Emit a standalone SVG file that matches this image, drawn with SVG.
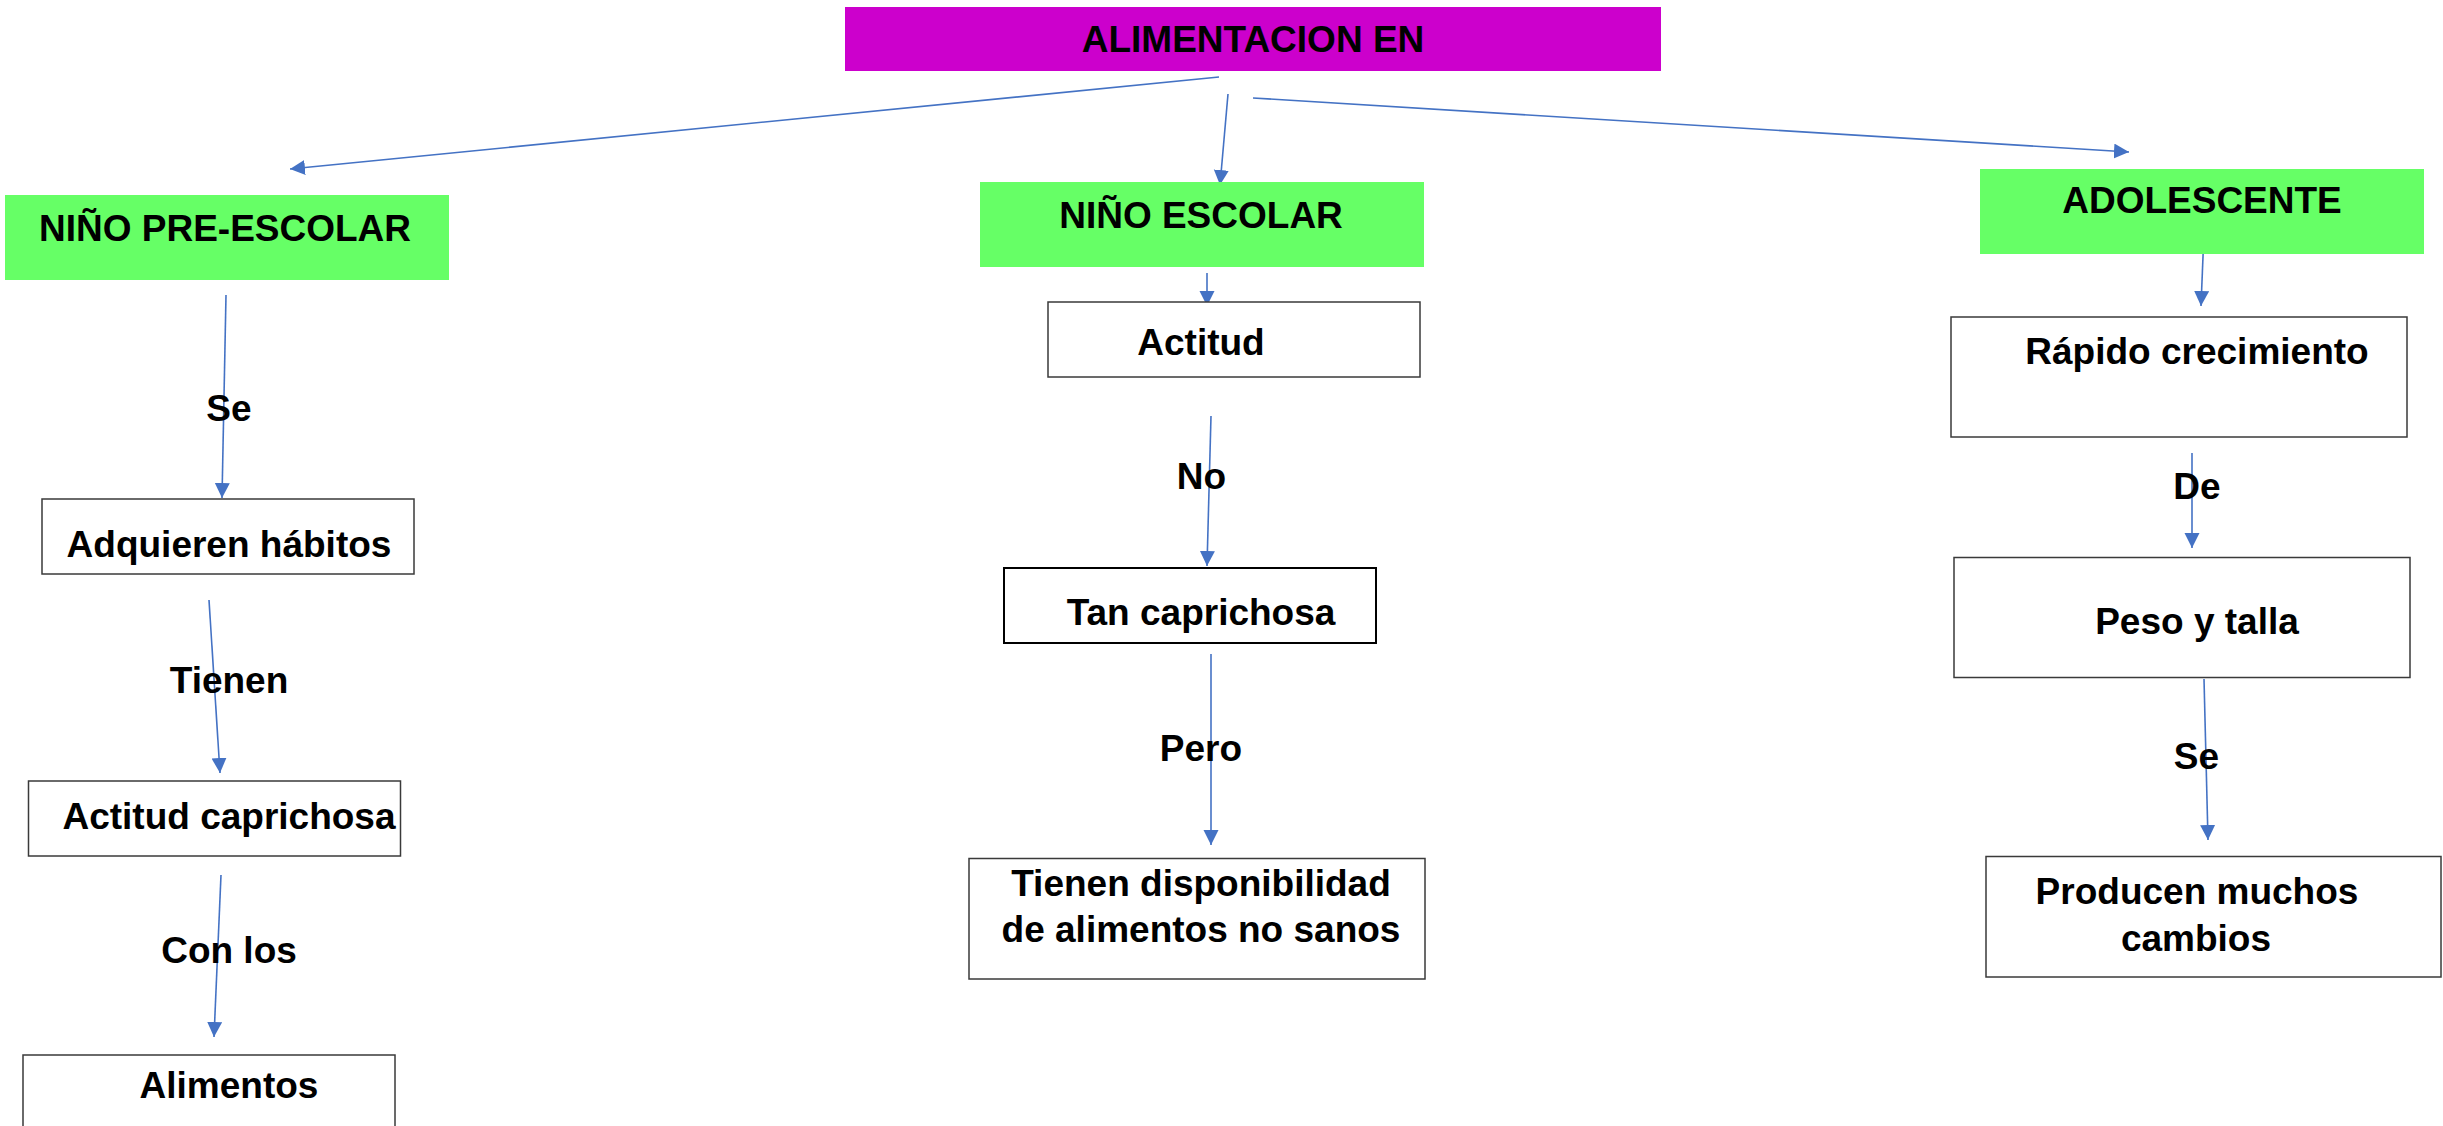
<svg xmlns="http://www.w3.org/2000/svg" width="2443" height="1126" viewBox="0 0 2443 1126">
<style>
text{font-family:"Liberation Sans",Arial,sans-serif;font-weight:bold;font-size:37px;fill:#000;text-anchor:middle}
.box{fill:#fff;stroke:#3a3a3a;stroke-width:1.5}
.green{fill:#66FF66}
.conn{stroke:#4472C4;stroke-width:1.6;fill:none;marker-end:url(#ah)}
</style>
<defs>
<marker id="ah" markerUnits="userSpaceOnUse" markerWidth="16" markerHeight="16" refX="15" refY="7.5" orient="auto" viewBox="0 0 16 16">
<path d="M0,0 L15,7.5 L0,15 Z" fill="#4472C4"/>
</marker>
</defs>
<rect width="2443" height="1126" fill="#fff"/>
<g id="connectors">
<line class="conn" x1="1219" y1="77" x2="290" y2="169"/>
<line class="conn" x1="1228" y1="94" x2="1220" y2="185"/>
<line class="conn" x1="1253" y1="98" x2="2129" y2="152"/>
<line class="conn" x1="226" y1="295" x2="222" y2="498"/>
<line class="conn" x1="209" y1="600" x2="220" y2="773"/>
<line class="conn" x1="221" y1="875" x2="214" y2="1037"/>
<line class="conn" x1="1207" y1="273" x2="1207" y2="306"/>
<line class="conn" x1="1211" y1="416" x2="1207" y2="566"/>
<line class="conn" x1="1211" y1="654" x2="1211" y2="845"/>
<line class="conn" x1="2204" y1="232" x2="2201" y2="306"/>
<line class="conn" x1="2192" y1="453" x2="2192" y2="548"/>
<line class="conn" x1="2204" y1="679" x2="2208" y2="840"/>
</g>
<g id="title">
<rect x="845" y="7" width="816" height="64" fill="#CC00CC"/>
<text x="1253" y="52">ALIMENTACION EN</text>
</g>
<g id="preescolar">
<rect class="green" x="5" y="195" width="444" height="85"/>
<text x="225" y="241">NIÑO PRE-ESCOLAR</text>
</g>
<g id="escolar">
<rect class="green" x="980" y="182" width="444" height="85"/>
<text x="1201" y="228">NIÑO ESCOLAR</text>
</g>
<g id="adolescente">
<rect class="green" x="1980" y="169" width="444" height="85"/>
<text x="2202" y="213">ADOLESCENTE</text>
</g>
<g id="adquieren">
<rect class="box" x="42" y="499" width="372" height="75"/>
<text x="229" y="557">Adquieren hábitos</text>
</g>
<g id="actitud-caprichosa">
<rect class="box" x="28.5" y="781" width="372" height="75"/>
<text x="229" y="829">Actitud caprichosa</text>
</g>
<g id="alimentos">
<rect class="box" x="23" y="1055" width="372" height="90"/>
<text x="229" y="1098">Alimentos</text>
</g>
<g id="actitud">
<rect class="box" x="1048" y="302" width="372" height="75"/>
<text x="1201" y="355">Actitud</text>
</g>
<g id="tan-caprichosa">
<rect class="box" x="1004" y="568" width="372" height="75" style="stroke:#000;stroke-width:2"/>
<text x="1201" y="625">Tan caprichosa</text>
</g>
<g id="tienen-disponibilidad">
<rect class="box" x="969" y="858.5" width="456" height="120.5"/>
<text x="1201" y="896">Tienen disponibilidad</text>
<text x="1201" y="942">de alimentos no sanos</text>
</g>
<g id="rapido">
<rect class="box" x="1951" y="317" width="456" height="120"/>
<text x="2197" y="364">Rápido crecimiento</text>
</g>
<g id="peso">
<rect class="box" x="1954" y="557.5" width="456" height="120"/>
<text x="2197" y="634">Peso y talla</text>
</g>
<g id="producen">
<rect class="box" x="1986" y="856.5" width="455" height="120.5"/>
<text x="2197" y="904">Producen muchos</text>
<text x="2196" y="951">cambios</text>
</g>
<g id="labels">
<text x="229" y="421">Se</text>
<text x="229" y="693">Tienen</text>
<text x="229" y="963">Con los</text>
<text x="1201.5" y="489">No</text>
<text x="1201" y="761">Pero</text>
<text x="2197" y="499">De</text>
<text x="2196.5" y="769">Se</text>
</g>
</svg>
